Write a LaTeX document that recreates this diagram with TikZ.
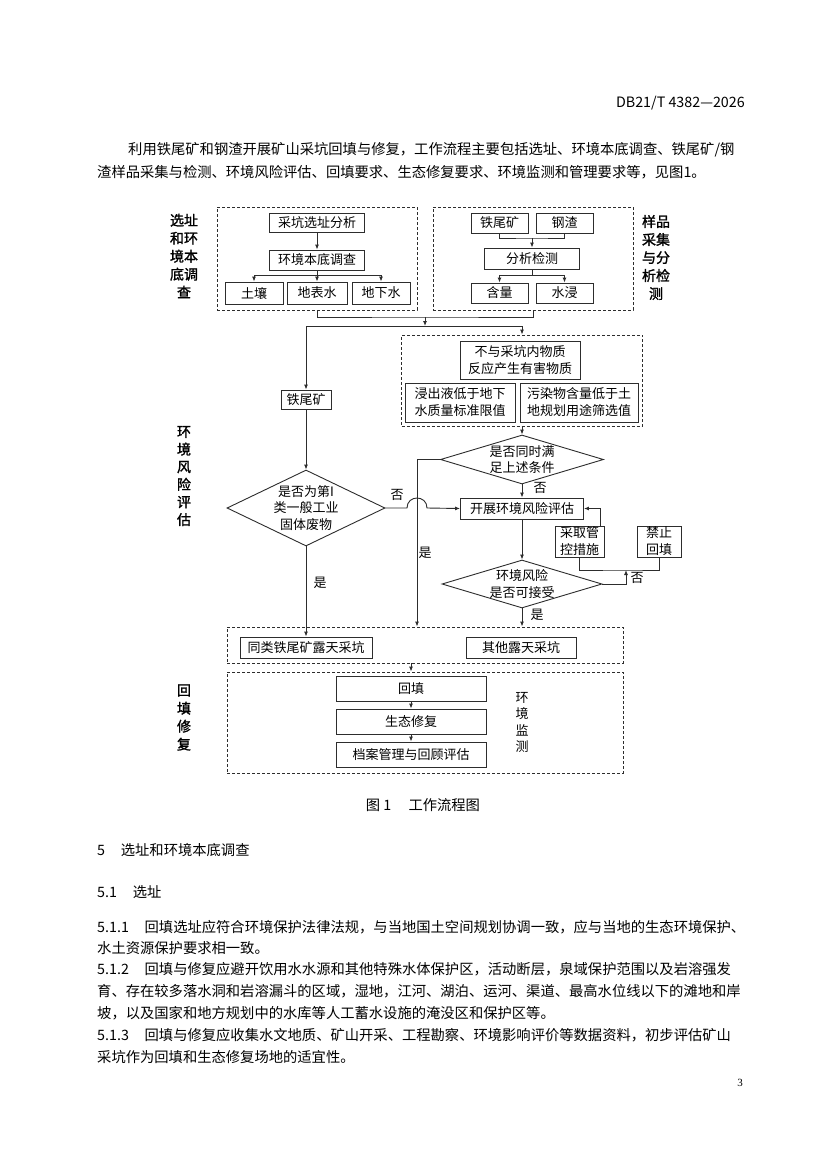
\documentclass[tikz,border=0pt]{standalone}
\usepackage{fontspec}
\setmainfont{Noto Sans CJK SC}
\newfontfamily\numfont{Liberation Serif}
\newfontfamily\sidefont[FakeBold=1.5]{Noto Sans CJK SC}
\usepackage{tikz}
\usetikzlibrary{positioning, arrows.meta, shapes.geometric}
\definecolor{linegray}{RGB}{45,45,45}
\XeTeXlinebreaklocale "zh"
\XeTeXlinebreakskip=0pt plus 1pt
\newcommand{\jline}[2]{\makebox[#1][s]{#2}}
\tikzset{
  bx/.style={draw=linegray, line width=0.9pt, inner sep=0pt, align=center, font=\fontsize{13}{17}\selectfont},
  grp/.style={draw=linegray, line width=0.9pt, dash pattern=on 3pt off 2pt, inner sep=0pt},
  dia/.style={diamond, draw=linegray, line width=0.9pt, inner sep=0pt, aspect=2},
  ln/.style={draw=linegray, line width=0.9pt},
  arr/.style={draw=linegray, line width=0.9pt, -{Latex[length=5pt,width=4pt]}},
  side/.style={align=center, inner sep=0pt, font=\sidefont\fontsize{14}{18}\selectfont},
  tag/.style={align=center, inner sep=0pt, font=\fontsize{13}{16.5}\selectfont},
  body/.style={anchor=west, inner sep=0pt, font=\fontsize{14.3}{20}\selectfont},
}

\begin{document}
\begin{tikzpicture}[x=1pt,y=-1pt]
\useasboundingbox[fill=white] (0,0) rectangle (827,1170);
\node[body, anchor=east] (hd) at (745,103) {DB21/T 4382—2026};
\node[body] (p1) at (128,150) {\jline{617pt}{利用铁尾矿和钢渣开展矿山采坑回填与修复，工作流程主要包括选址、环境本底调查、铁尾矿/钢}};
\node[body] (p2) at (97,172) {渣样品采集与检测、环境风险评估、回填要求、生态修复要求、环境监测和管理要求等，见图1。};

\node[grp, minimum width=200, minimum height=103] (g1) at (317,258.5) {};
\node[grp, minimum width=200, minimum height=103] (g2) at (533,258.5) {};
\node[bx, minimum width=95, minimum height=19] (cx) at (317,222.5) {采坑选址分析};
\node[bx, minimum width=95, minimum height=20] (hj) at (317,260) {环境本底调查};
\node[bx, minimum width=58, minimum height=22] (tr) at (254,293) {土壤};
\node[bx, minimum width=60, minimum height=22] (dbs) at (317,293) {地表水};
\node[bx, minimum width=58, minimum height=22] (dxs) at (381,293) {地下水};
\node[bx, minimum width=57, minimum height=20] (twk) at (499.5,223) {铁尾矿};
\node[bx, minimum width=57, minimum height=20] (gz) at (564.5,223) {钢渣};
\node[bx, minimum width=95, minimum height=21] (fx) at (532,258.5) {分析检测};
\node[bx, minimum width=57, minimum height=20] (hl) at (499.5,293) {含量};
\node[bx, minimum width=57, minimum height=20] (sj) at (564.5,293) {水浸};
\node[side] (lxz) at (184,256) {选址\\和环\\境本\\底调\\查};
\node[side] (lyp) at (656,257.5) {样品\\采集\\与分\\析检\\测};

\node[bx, minimum width=50, minimum height=19] (tw) at (306,399.5) {铁尾矿};
\node[grp, minimum width=241, minimum height=91] (g5) at (522,380.5) {};
\node[bx, minimum width=120, minimum height=38] (c1) at (520,360) {不与采坑内物质\\反应产生有害物质};
\node[bx, minimum width=110, minimum height=39] (c2) at (460,402.5) {浸出液低于地下\\水质量标准限值};
\node[bx, minimum width=118, minimum height=39] (c3) at (579,402.5) {污染物含量低于土\\地规划用途筛选值};
\node[side, font=\sidefont\fontsize{14}{17.6}\selectfont] (lfx) at (184,476) {环\\境\\风\\险\\评\\估};

\node[dia, minimum width=158, minimum height=76] (d1) at (306,508) {};
\node[tag] (d1t) at (d1) {是否为第I\\类一般工业\\固体废物};
\node[dia, minimum width=163, minimum height=49] (d2) at (522,459.5) {};
\node[tag] (d2t) at (d2) {是否同时满\\足上述条件};
\node[bx, minimum width=123, minimum height=21] (kz) at (522,508.5) {开展环境风险评估};
\node[dia, minimum width=160, minimum height=48] (d3) at (522,584) {};
\node[tag] (d3t) at (d3) {环境风险\\是否可接受};
\node[bx, minimum width=49, minimum height=31] (ck) at (579.5,541.5) {采取管\\控措施};
\node[bx, minimum width=44, minimum height=31] (jz) at (659,541.5) {禁止\\回填};
\node[tag] (n1) at (397,495) {否};
\node[tag] (y1) at (425,553) {是};
\node[tag] (n2) at (540,488) {否};
\node[tag] (y2) at (320,583) {是};
\node[tag] (y3) at (537,615) {是};
\node[tag] (n3) at (637,578) {否};

\node[grp, minimum width=396, minimum height=36] (g3) at (425,645) {};
\node[bx, minimum width=132, minimum height=21] (tl) at (306,647.5) {同类铁尾矿露天采坑};
\node[bx, minimum width=110, minimum height=21] (qt) at (521,647.5) {其他露天采坑};
\node[grp, minimum width=396, minimum height=101] (g4) at (425,722.5) {};
\node[bx, minimum width=150, minimum height=25] (ht) at (411,688.5) {回填};
\node[bx, minimum width=150, minimum height=25] (st) at (411,721.5) {生态修复};
\node[bx, minimum width=150, minimum height=25] (da) at (411,754.5) {档案管理与回顾评估};
\node[tag, font=\fontsize{13}{16.3}\selectfont] (ljc) at (522,722.5) {环\\境\\监\\测};
\node[side] (lht) at (184,717.5) {回\\填\\修\\复};

\draw[arr] (cx) -- (hj);
\draw[ln] (hj.south) -- ++(0,5) coordinate (hb);
\draw[arr] (hb) -| (tr.north);
\draw[arr] (hb) -- (dbs.north);
\draw[arr] (hb) -| (dxs.north);
\coordinate (gj) at (532,238);
\draw[ln] (twk.south) |- (gj) -| (gz.south);
\draw[arr] (gj) -- (fx.north);
\draw[ln] (fx.south) -- ++(0,6) coordinate (fb);
\draw[arr] (fb) -| (hl.north);
\draw[arr] (fb) -| (sj.north);

\coordinate (mj) at (425,317);
\coordinate (sp) at (425,326);
\draw[ln] (g1.south) |- (mj) -| (g2.south);
\draw[arr] (mj) -- (sp);
\draw[arr] (sp) -| (tw.north);
\draw[arr] (sp) -| (g5.north);
\draw[arr] (tw) -- (d1);
\draw[arr] (g5) -- (d2);
\draw[arr] (d2) -- (kz);
\draw[arr] (kz) -- (d3);
\coordinate (yl) at (417,459.5);
\draw[arr] (d2.west) -- (yl) -- (yl |- g3.north);
\draw[arr] (d1.east) -- (407,508) .. controls (407,494.7) and (427,494.7) .. (427,508) -- (kz.west);
\draw[arr] (d1) -- (tl);
\draw[arr] (d3) -- (d3 |- g3.north);
\coordinate (cj) at (626,570);
\draw[arr] (d3.east) -| (cj);
\draw[ln] (ck.south) |- (cj) -| (jz.south);
\draw[arr] ([xshift=-4pt]ck.north east) |- (kz.east);
\draw[arr] (g3.south -| ht) -- (g4.north -| ht);
\draw[arr] (ht) -- (st);
\draw[arr] (st) -- (da);

\node[font=\fontsize{14.3}{18}\selectfont] (cap) at (423,805) {图 1\hspace{1.2em}工作流程图};
\node[body] (h5) at (97,850) {5\hspace{1.1em}选址和环境本底调查};
\node[body] (h51) at (97,892) {5.1\hspace{1.1em}选址};
\node[body] (a1) at (97,927) {\jline{648pt}{5.1.1\hspace{1.1em}回填选址应符合环境保护法律法规，与当地国土空间规划协调一致，应与当地的生态环境保护、}};
\node[body] (a2) at (97,948) {水土资源保护要求相一致。};
\node[body] (b1) at (97,969) {\jline{648pt}{5.1.2\hspace{1.1em}回填与修复应避开饮用水水源和其他特殊水体保护区，活动断层，泉域保护范围以及岩溶强发}};
\node[body] (b2) at (97,991) {\jline{648pt}{育、存在较多落水洞和岩溶漏斗的区域，湿地，江河、湖泊、运河、渠道、最高水位线以下的滩地和岸}};
\node[body] (b3) at (97,1013) {坡，以及国家和地方规划中的水库等人工蓄水设施的淹没区和保护区等。};
\node[body] (e1) at (97,1035) {\jline{648pt}{5.1.3\hspace{1.1em}回填与修复应收集水文地质、矿山开采、工程勘察、环境影响评价等数据资料，初步评估矿山}};
\node[body] (e2) at (97,1057) {采坑作为回填和生态修复场地的适宜性。};
\node[font=\fontsize{11}{13}\selectfont\numfont] (pg) at (740,1083) {3};
\end{tikzpicture}
\end{document}
